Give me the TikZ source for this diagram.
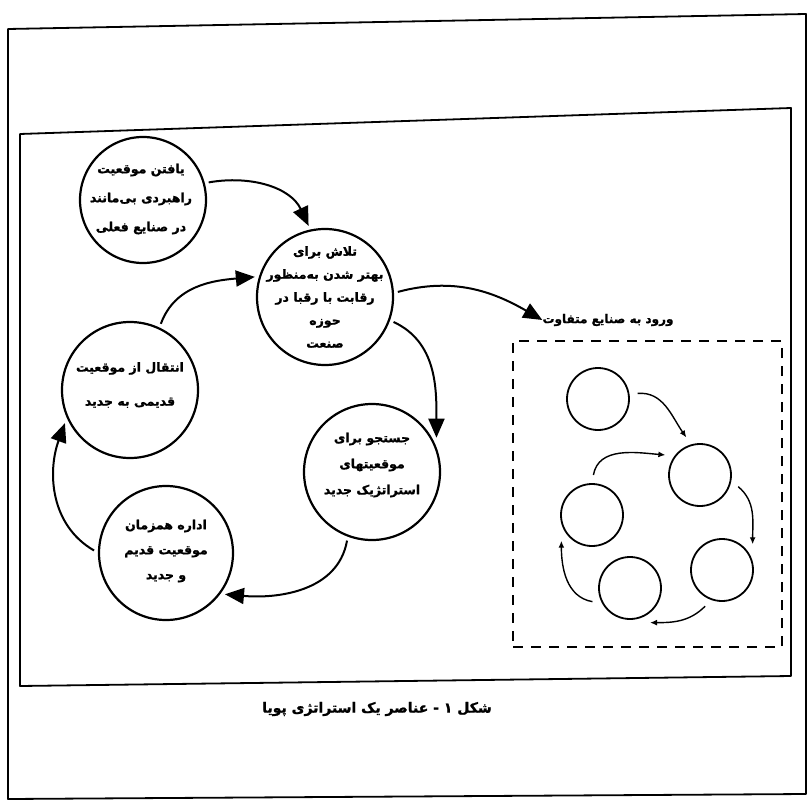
\documentclass[tikz,border=0pt]{standalone}
\usepackage{fontspec}
\usepackage{tikz}
\usetikzlibrary{arrows.meta}
\newfontfamily\fafont[Script=Arabic, BoldFeatures={FakeBold=1.3}]{DejaVu Sans}
\TeXXeTstate=1
\newcommand{\fa}[1]{\beginR #1\endR}

\begin{document}
\begin{tikzpicture}[
x=1pt, y=1pt,
>={Triangle[length=19pt,width=16pt]},
stage-node/.style = {circle, draw=black, line width=2.2pt, minimum size=136pt, inner sep=0pt, outer sep=5pt},
small-node/.style = {circle, draw=black, line width=1.8pt, minimum size=62pt, inner sep=0pt, outer sep=9pt},
stage-text/.style = {align=center, inner sep=0pt, font=\fafont\bfseries\fontsize{12.5}{#1}\selectfont},
stage-text/.default = 25,
big-arrow/.style = {->, line width=2pt},
small-arrow/.style = {-{Latex[length=7pt,width=6pt]}, line width=1.4pt},
frame-line/.style = {line width=1.8pt, line join=round}
]
\useasboundingbox (0,0) rectangle (808,-805);

% frames
\draw[frame-line] (8,-29) -- (806,-14) -- (806,-794) -- (8,-799) -- cycle;
\draw[frame-line] (20,-134) -- (791,-108) -- (791,-676) -- (20,-686) -- cycle;

% stages of the cycle
\node [stage-node, minimum size=126pt] (find) at (143,-200) {};
\node [stage-node] (improve) at (325,-297) {};
\node [stage-node] (shift) at (130,-390) {};
\node [stage-node] (search) at (372,-472) {};
\node [stage-node, minimum size=134pt] (manage) at (166,-553) {};

\node [stage-text=29] (find-txt) at (141,-199)
  {\fa{یافتن موقعیت}\\\fa{راهبردی بی^^^^200cمانند}\\\fa{در صنایع فعلی}};
\node [stage-text=23] (improve-txt) at (325,-297)
  {\fa{تلاش برای}\\\fa{بهتر شدن به^^^^200cمنظور}\\\fa{رقابت با رقبا در}\\\fa{حوزه}\\\fa{صنعت}};
\node [stage-text=34] (shift-txt) at (130,-385)
  {\fa{انتقال از موقعیت}\\\fa{قدیمی به جدید}};
\node [stage-text=26] (search-txt) at (372,-465)
  {\fa{جستجو برای}\\\fa{موقعیتهای}\\\fa{استراتژیک جدید}};
\node [stage-text=25] (manage-txt) at (166,-551)
  {\fa{اداره همزمان}\\\fa{موقعیت قدیم}\\\fa{و جدید}};

% other industries
\node [draw=black, line width=1.6pt, dash pattern=on 10pt off 8pt, minimum width=269pt, minimum height=306pt, inner sep=0pt] (others) at (647.5,-494) {};
\node [stage-text, font=\fafont\bfseries\fontsize{12}{14}\selectfont] (entry) at (608,-320) {\fa{ورود به صنایع متفاوت}};

\node [small-node] (s1) at (598,-399) {};
\node [small-node] (s2) at (700,-475) {};
\node [small-node] (s3) at (592,-515) {};
\node [small-node] (s4) at (722,-570) {};
\node [small-node] (s5) at (630,-588) {};

% caption
\node [font=\fafont\bfseries\fontsize{14}{16}\selectfont] (caption) at (377,-709)
  {\fa{شکل ۱ - عناصر یک استراتژی پویا}};

% arrows
\draw[big-arrow] (find.15) to[out=10,in=115] (improve.103);
\draw[big-arrow] (improve.-20) to[out=-25,in=90] (search.28);
\draw[big-arrow] (search.250) to[out=260,in=-5] (manage.-35);
\draw[big-arrow] (manage.178) to[out=150,in=250] (shift.207);
\draw[big-arrow] (shift.65) to[out=70,in=185] (improve.164);
\draw[big-arrow] (improve.4) to[out=15,in=150] (entry.west);

\draw[small-arrow] (s1.8) to[out=5,in=125] (s2.110);
\draw[small-arrow] (s3.88) to[out=80,in=175] (s2.150);
\draw[small-arrow] (s2.-17) to[out=-40,in=90] (s4.40);
\draw[small-arrow] (s4.245) to[out=225,in=0] (s5.-60);
\draw[small-arrow] (s5.200) to[out=170,in=270] (s3.220);

\end{tikzpicture}
\end{document}
